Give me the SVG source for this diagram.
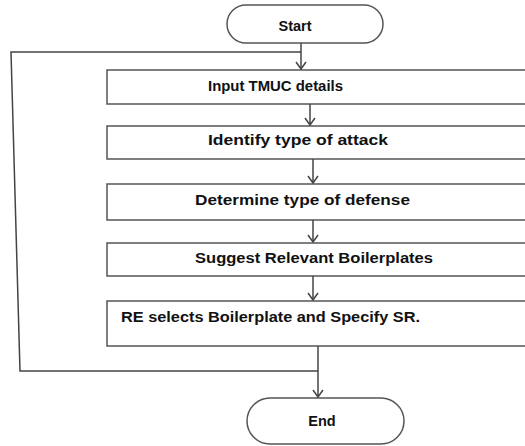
<svg xmlns="http://www.w3.org/2000/svg" width="525" height="446" viewBox="0 0 525 446">
<style>
.box{fill:#fff;stroke:#555;stroke-width:1.5}
.term{fill:#fff;stroke:#555;stroke-width:1.5}
.lbl{font-family:"Liberation Sans",Arial,sans-serif;font-weight:bold;font-size:14.5px;fill:#111}
.conn{fill:none;stroke:#444;stroke-width:1.5}
</style>
<defs>
<marker id="arr" markerWidth="10" markerHeight="12" refX="9" refY="6" orient="auto" markerUnits="userSpaceOnUse" viewBox="0 0 10 12">
<polyline points="2,1 9,6 2,11" fill="none" stroke="#444" stroke-width="1.5"/>
</marker>
</defs>
<rect width="525" height="446" fill="#fff"/>
<g id="start">
<rect class="term" x="227" y="5" width="156" height="38" rx="19"/>
<text class="lbl" x="295" y="31" text-anchor="middle">Start</text>
</g>
<g id="input">
<rect class="box" x="107" y="70" width="430" height="34"/>
<text class="lbl" x="208" y="91" textLength="135" lengthAdjust="spacingAndGlyphs">Input TMUC details</text>
</g>
<g id="identify">
<rect class="box" x="107" y="126" width="430" height="33"/>
<text class="lbl" x="208" y="145" textLength="180" lengthAdjust="spacingAndGlyphs">Identify type of attack</text>
</g>
<g id="determine">
<rect class="box" x="107" y="184" width="430" height="36"/>
<text class="lbl" x="195" y="205" textLength="215" lengthAdjust="spacingAndGlyphs">Determine type of defense</text>
</g>
<g id="suggest">
<rect class="box" x="107" y="243" width="430" height="33"/>
<text class="lbl" x="195" y="263" textLength="238" lengthAdjust="spacingAndGlyphs">Suggest Relevant Boilerplates</text>
</g>
<g id="select">
<rect class="box" x="107" y="301" width="430" height="45"/>
<text class="lbl" x="121" y="322" textLength="299" lengthAdjust="spacingAndGlyphs">RE selects Boilerplate and Specify SR.</text>
</g>
<g id="end">
<rect class="term" x="247" y="398" width="157" height="46" rx="23"/>
<text class="lbl" x="322" y="426" text-anchor="middle">End</text>
</g>
<g id="connectors">
<path class="conn" d="M301,43 V69" marker-end="url(#arr)"/>
<path class="conn" d="M310,104 V125" marker-end="url(#arr)"/>
<path class="conn" d="M313,159 V183" marker-end="url(#arr)"/>
<path class="conn" d="M313,220 V242" marker-end="url(#arr)"/>
<path class="conn" d="M313,276 V300" marker-end="url(#arr)"/>
<path class="conn" d="M318,346 V397" marker-end="url(#arr)"/>
<path class="conn" d="M318,371 H20 L11,52 H301"/>
</g>
</svg>
